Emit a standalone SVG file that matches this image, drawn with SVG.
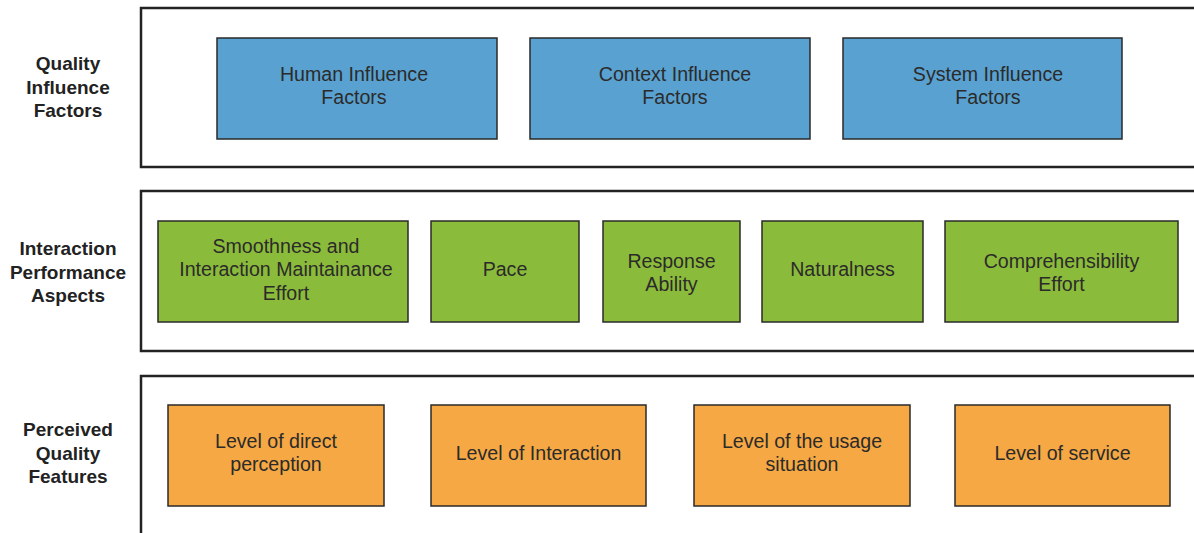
<svg xmlns="http://www.w3.org/2000/svg" width="1194" height="533" viewBox="0 0 1194 533">
<style>
.band{fill:#fff;stroke:#222;stroke-width:2.5}
.node{stroke:#2a2a2a;stroke-width:1.5}
.blue{fill:#59a1d0}
.green{fill:#8bbb3a}
.orange{fill:#f5a843}
.t{font-family:"Liberation Sans",Arial,sans-serif;font-size:19.6px;fill:#2b2b2b;text-anchor:middle}
.lbl{font-family:"Liberation Sans",Arial,sans-serif;font-size:19px;font-weight:bold;fill:#222;text-anchor:middle}
</style>
<rect width="1194" height="533" fill="#fff"/>
<g id="bands">
<rect class="band" x="141" y="8" width="1070" height="159"/>
<rect class="band" x="141" y="191" width="1070" height="160"/>
<rect class="band" x="141" y="376" width="1070" height="170"/>
</g>
<g id="labels">
<text class="lbl" x="68" y="70">Quality</text>
<text class="lbl" x="68" y="93.5">Influence</text>
<text class="lbl" x="68" y="117">Factors</text>
<text class="lbl" x="68" y="255">Interaction</text>
<text class="lbl" x="68" y="278.5">Performance</text>
<text class="lbl" x="68" y="302">Aspects</text>
<text class="lbl" x="68" y="436">Perceived</text>
<text class="lbl" x="68" y="459.5">Quality</text>
<text class="lbl" x="68" y="483">Features</text>
</g>
<g id="human">
<rect class="node blue" x="217" y="38" width="280" height="101"/>
<text class="t" x="354" y="80.5">Human Influence</text>
<text class="t" x="354" y="104">Factors</text>
</g>
<g id="context">
<rect class="node blue" x="530" y="38" width="280" height="101"/>
<text class="t" x="675" y="80.5">Context Influence</text>
<text class="t" x="675" y="104">Factors</text>
</g>
<g id="system">
<rect class="node blue" x="843" y="38" width="279" height="101"/>
<text class="t" x="988" y="80.5">System Influence</text>
<text class="t" x="988" y="104">Factors</text>
</g>
<g id="smoothness">
<rect class="node green" x="158" y="221" width="250" height="101"/>
<text class="t" x="286" y="252.5">Smoothness and</text>
<text class="t" x="286" y="276">Interaction Maintainance</text>
<text class="t" x="286" y="299.5">Effort</text>
</g>
<g id="pace">
<rect class="node green" x="431" y="221" width="148" height="101"/>
<text class="t" x="505" y="276">Pace</text>
</g>
<g id="response">
<rect class="node green" x="603" y="221" width="137" height="101"/>
<text class="t" x="671.5" y="267.5">Response</text>
<text class="t" x="671.5" y="291">Ability</text>
</g>
<g id="naturalness">
<rect class="node green" x="762" y="221" width="161" height="101"/>
<text class="t" x="842.5" y="276">Naturalness</text>
</g>
<g id="comprehensibility">
<rect class="node green" x="945" y="221" width="233" height="101"/>
<text class="t" x="1061.5" y="267.5">Comprehensibility</text>
<text class="t" x="1061.5" y="291">Effort</text>
</g>
<g id="direct">
<rect class="node orange" x="168" y="405" width="216" height="101"/>
<text class="t" x="276" y="447.5">Level of direct</text>
<text class="t" x="276" y="471">perception</text>
</g>
<g id="interaction">
<rect class="node orange" x="431" y="405" width="215" height="101"/>
<text class="t" x="538.5" y="459.5">Level of Interaction</text>
</g>
<g id="usage">
<rect class="node orange" x="694" y="405" width="216" height="101"/>
<text class="t" x="802" y="447.5">Level of the usage</text>
<text class="t" x="802" y="471">situation</text>
</g>
<g id="service">
<rect class="node orange" x="955" y="405" width="215" height="101"/>
<text class="t" x="1062.5" y="459.5">Level of service</text>
</g>
<g id="connectors"></g>
</svg>
